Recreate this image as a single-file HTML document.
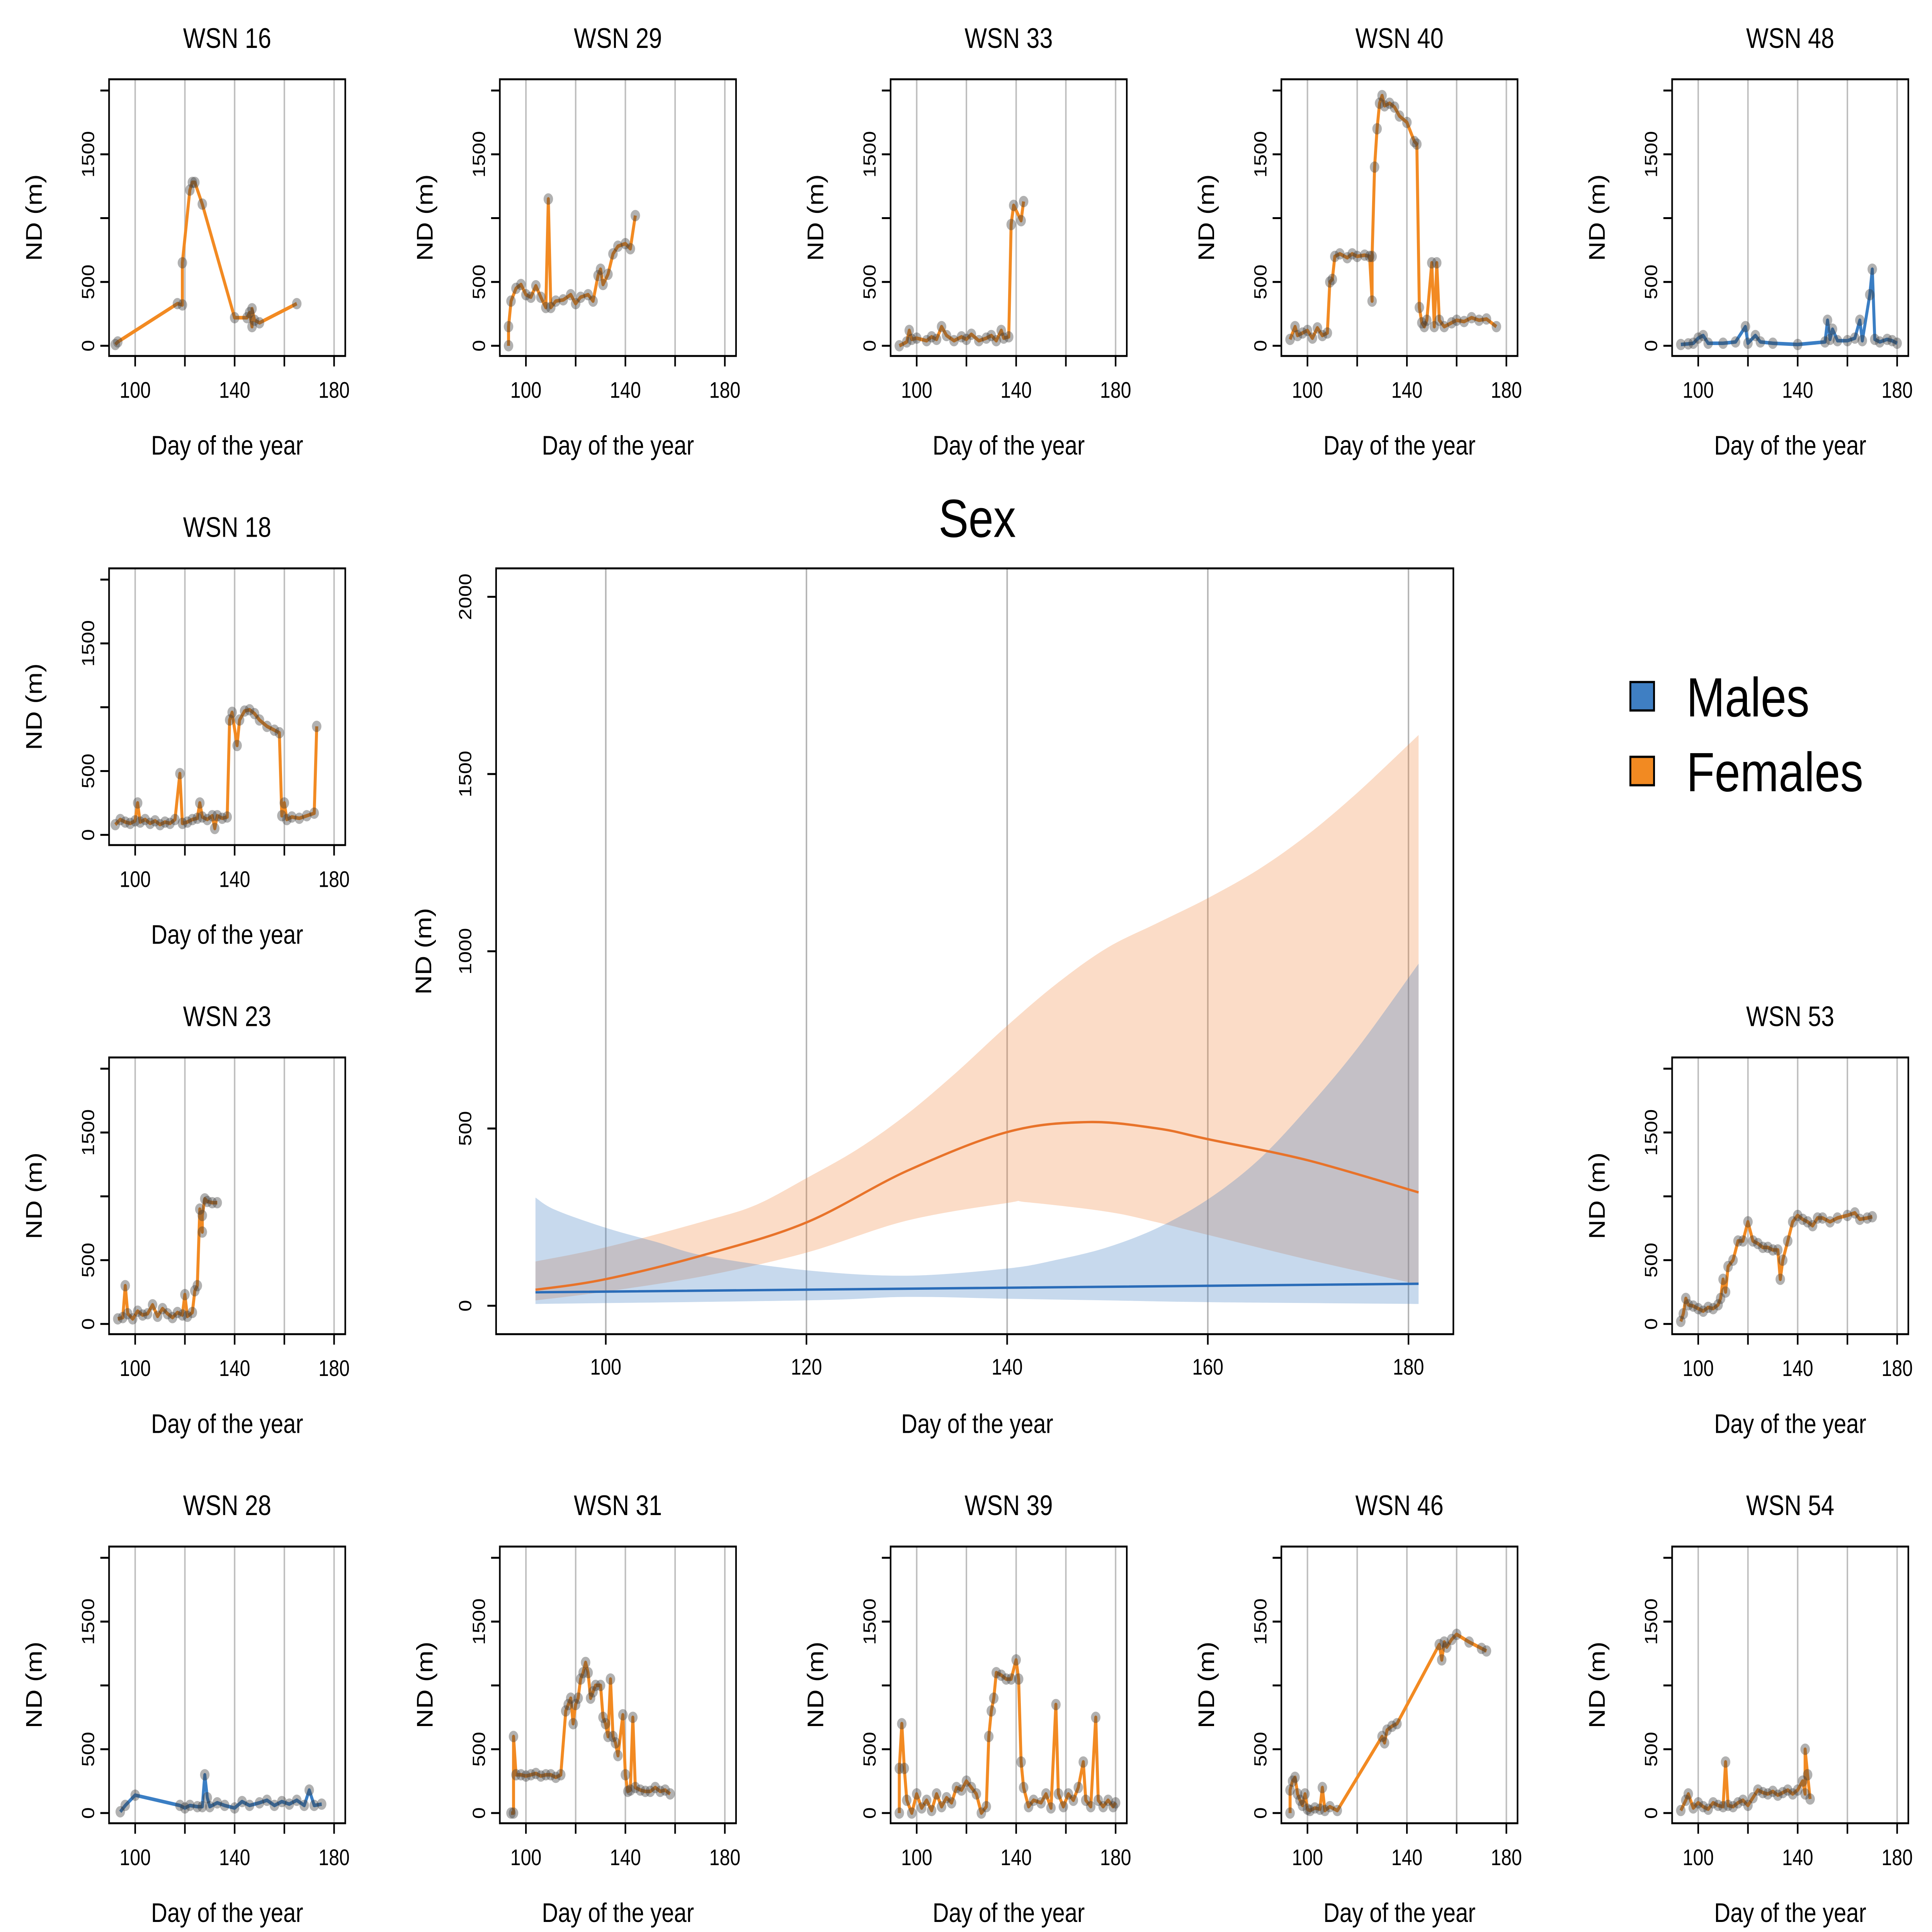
<!DOCTYPE html>
<html><head><meta charset="utf-8"><style>
html,body{margin:0;padding:0;background:#fff;width:100%;height:100%;overflow:hidden}
svg{display:block;position:absolute;left:0;top:0;width:100vw;height:100vh}
text{font-family:"Liberation Sans",Arial,sans-serif;fill:#000}
</style></head><body>
<svg id="chart" viewBox="0 0 1550 1291.7" preserveAspectRatio="none" xmlns="http://www.w3.org/2000/svg"></svg>
<script>
// ---- Center model data ----
const femaleMeanDays=[93,100,110,120,130,140,148,155,160,170,181];
const femaleMean=[45,75,145,235,380,490,518,500,470,410,320];
const femaleUpDays=[93,100,110,115,120,125,130,135,140,145,150,155,160,165,170,175,181];
const femaleUp=[125,165,240,285,360,440,540,660,790,910,1010,1080,1150,1230,1330,1450,1610];
const femaleLoDays=[93,100,110,120,130,140,142,150,155,160,170,181];
const femaleLo=[15,40,85,150,240,290,292,265,235,200,130,60];
const maleMeanDays=[93,181];
const maleMean=[38,62];
const maleUpDays=[93,95,100,105,110,120,130,140,145,150,155,160,165,170,175,181];
const maleUp=[305,270,220,180,140,100,85,105,130,165,220,300,410,560,730,965];
const maleLoDays=[93,120,130,140,150,160,181];
const maleLo=[5,15,25,20,15,10,5];
const centerYTicks=[0,500,1000,1500,2000];
const centerXTicks=[100,120,140,160,180];
const smallYTicks=[0,500,1000,1500,2000];
const smallYLabels=["0","500","","1500",""];
const smallXTicks=[100,120,140,160,180];
const smallXLabels=["100","","140","","180"];

// ---- Individual panels ----
const panelNames=["WSN 16","WSN 29","WSN 33","WSN 40","WSN 48","WSN 18","WSN 23","WSN 53","WSN 28","WSN 31","WSN 39","WSN 46","WSN 54"];
const panelSex=["F","F","F","F","M","F","F","F","M","F","F","F","F"];
const panelCol=[0,1,2,3,4,0,0,4,0,1,2,3,4];
const panelRow=[0,0,0,0,0,1,2,2,3,3,3,3,3];
const d16=[[92,10],[93,30],[117,330],[119,320],[119,650],[122,1220],[123,1280],[124,1280],[127,1110],[140,220],[145,220],[146,260],[147,150],[147,290],[148,200],[150,180],[165,330]];
const d29=[[93,0],[93,150],[94,350],[96,450],[98,480],[100,400],[102,380],[104,470],[106,380],[108,300],[109,1150],[110,300],[112,350],[115,360],[118,400],[120,330],[122,380],[125,400],[127,350],[129,550],[130,600],[131,480],[133,560],[135,720],[137,780],[140,800],[142,760],[144,1020]];
const d33=[[93,0],[96,30],[97,120],[98,50],[100,60],[104,40],[106,70],[108,50],[110,150],[112,80],[115,40],[118,70],[120,50],[122,90],[125,40],[128,60],[130,80],[132,40],[134,120],[135,60],[137,70],[138,950],[139,1100],[142,980],[143,1130]];
const d40=[[93,50],[95,150],[96,80],[98,100],[100,120],[102,60],[104,140],[106,80],[108,100],[109,500],[110,520],[111,700],[113,720],[116,690],[118,720],[120,700],[123,710],[125,700],[126,350],[126,700],[127,1400],[128,1700],[129,1900],[130,1960],[131,1880],[133,1900],[135,1870],[137,1800],[140,1750],[143,1600],[144,1580],[145,300],[146,180],[147,150],[148,200],[150,650],[151,150],[152,650],[153,200],[155,150],[158,180],[160,200],[163,190],[166,220],[169,200],[172,210],[176,150]];
const d48=[[93,10],[96,15],[98,20],[100,60],[102,80],[104,20],[110,20],[115,30],[119,150],[120,20],[123,80],[125,30],[130,20],[140,10],[151,30],[152,200],[153,50],[154,130],[156,40],[160,40],[163,60],[165,200],[166,40],[169,400],[170,600],[171,50],[173,30],[176,50],[178,40],[180,20]];
const d18=[[92,80],[94,120],[96,100],[98,90],[100,110],[101,250],[102,100],[104,120],[106,90],[108,110],[110,80],[112,100],[114,90],[116,120],[118,480],[119,90],[121,100],[123,120],[125,130],[126,250],[127,140],[129,120],[131,150],[132,50],[133,150],[135,130],[137,140],[138,900],[139,960],[141,700],[142,900],[144,970],[146,980],[148,950],[150,900],[153,850],[156,820],[158,800],[159,150],[160,250],[161,120],[163,140],[166,130],[169,150],[172,170],[173,850]];
const d23=[[93,40],[95,50],[96,300],[97,80],[99,40],[101,100],[103,70],[105,80],[107,150],[109,60],[111,120],[113,80],[115,50],[117,90],[119,70],[120,230],[121,60],[123,90],[124,260],[125,300],[126,900],[127,720],[127,850],[128,980],[129,960],[131,950],[133,950]];
const d53=[[93,20],[94,80],[95,200],[96,150],[98,140],[100,120],[102,100],[104,130],[106,120],[108,150],[109,200],[110,350],[111,250],[112,450],[114,500],[116,650],[118,650],[120,800],[122,650],[124,630],[126,600],[128,600],[130,580],[132,580],[133,350],[134,500],[136,650],[138,800],[140,850],[142,820],[144,800],[146,770],[148,830],[150,830],[153,800],[156,830],[160,850],[163,870],[165,820],[168,830],[170,840]];
const d28=[[94,10],[96,60],[100,140],[118,60],[120,40],[122,60],[125,50],[127,50],[128,300],[129,120],[130,50],[133,80],[136,60],[140,40],[143,90],[146,60],[150,80],[153,100],[156,60],[159,90],[162,70],[165,100],[168,60],[170,180],[172,60],[175,70]];
const d31=[[94,0],[95,0],[95,600],[96,300],[98,300],[100,290],[102,300],[104,310],[106,290],[108,300],[110,300],[112,280],[114,300],[116,800],[117,850],[118,900],[119,700],[120,850],[121,900],[122,1050],[123,1100],[124,1180],[125,1100],[126,900],[127,950],[128,1000],[130,1000],[131,750],[132,700],[133,600],[134,1050],[135,600],[136,550],[137,450],[139,770],[140,300],[141,170],[142,180],[143,750],[144,200],[146,180],[148,170],[150,170],[152,200],[154,170],[156,180],[158,150]];
const d39=[[93,0],[93,350],[94,700],[95,350],[96,100],[98,0],[100,150],[102,40],[104,100],[106,20],[108,150],[110,50],[112,120],[114,80],[116,200],[118,180],[120,250],[122,200],[124,150],[126,0],[128,50],[129,600],[130,800],[131,900],[132,1100],[134,1080],[136,1050],[138,1050],[140,1200],[141,1050],[142,400],[143,200],[145,50],[147,100],[150,80],[152,150],[154,40],[156,850],[157,150],[159,50],[161,150],[163,100],[165,200],[167,400],[168,100],[170,50],[172,750],[173,100],[175,50],[177,100],[179,50],[180,80]];
const d46=[[93,0],[93,180],[94,250],[95,280],[96,150],[97,100],[98,60],[99,150],[100,30],[101,20],[103,40],[105,30],[106,200],[107,20],[109,50],[112,20],[130,600],[131,550],[132,650],[134,680],[136,700],[153,1320],[154,1200],[155,1340],[156,1300],[158,1360],[160,1400],[165,1340],[170,1290],[172,1270]];
const d54=[[93,20],[95,100],[96,150],[98,40],[100,80],[102,50],[104,30],[106,80],[108,60],[110,50],[111,400],[112,60],[114,50],[116,80],[118,100],[120,60],[122,120],[124,180],[126,160],[128,150],[130,170],[132,140],[134,160],[136,180],[138,150],[140,180],[142,250],[143,150],[143,500],[144,300],[145,110]];
const panelData=[d16,d29,d33,d40,d48,d18,d23,d53,d28,d31,d39,d46,d54];

const NS="http://www.w3.org/2000/svg";
const svg=document.getElementById('chart');
function mk(tag,attrs,parent){const e=document.createElementNS(NS,tag);for(const k in attrs)e.setAttribute(k,attrs[k]);(parent||svg).appendChild(e);return e;}
function txt(s,attrs,parent){const e=mk('text',attrs,parent);e.textContent=s;return e;}

// ---- small panels ----
const colX=[87.5,401,714.5,1028,1341.5], rowY=[53,380,707,1034];
const PW=189.5, PH=185, XMIN=89.5, XMAX=184.5, YMIN=-80, YMAX=2088;
panelNames.forEach((name,i)=>{
  const bx=colX[panelCol[i]], by=rowY[panelRow[i]];
  const g=mk('g',{});
  
  
  const sx=d=>bx+(d-XMIN)/(XMAX-XMIN)*PW;
  const sy=v=>by+PH-(v-YMIN)/(YMAX-YMIN)*PH;
  smallXTicks.forEach(t=>{
    const gl=mk('line',{x1:sx(t),x2:sx(t),y1:by,y2:by+PH,stroke:'#bebebe','stroke-width':1.2},g);
    
  });
  const col=panelSex[i]==='M'?'#3a7ec4':'#f28a22';
  const pts=panelData[i].map(p=>sx(p[0]).toFixed(1)+','+sy(p[1]).toFixed(1)).join(' ');
  const pl=mk('polyline',{points:pts,fill:'none',stroke:col,'stroke-width':2.4,'stroke-linejoin':'round'},g);
  
  panelData[i].forEach(p=>{
    const c=mk('circle',{cx:sx(p[0]),cy:sy(p[1]),r:3.8,fill:'rgba(60,60,60,0.4)'},g);
    
  });
  const fr=mk('rect',{x:bx,y:by,width:PW,height:PH,fill:'none',stroke:'#000','stroke-width':1.3},g);
  
  smallYTicks.forEach((t,k)=>{
    mk('line',{x1:bx-7,x2:bx,y1:sy(t),y2:sy(t),stroke:'#000','stroke-width':1.3},g);
    if(smallYLabels[k]){const tl=txt(smallYLabels[k],{x:bx-12,y:sy(t),'font-size':14,'text-anchor':'middle',transform:`rotate(-90 ${bx-12} ${sy(t)})`},g);
    }
  });
  smallXTicks.forEach((t,k)=>{
    mk('line',{x1:sx(t),x2:sx(t),y1:by+PH,y2:by+PH+7,stroke:'#000','stroke-width':1.3},g);
    if(smallXLabels[k]){const tl=txt(smallXLabels[k],{x:sx(t),y:by+PH+28,'font-size':15,'text-anchor':'middle'},g);
    }
  });
  const tt=txt(name,{x:bx+PW/2,y:by-21,'font-size':19,'text-anchor':'middle'},g);
  
  const xt=txt('Day of the year',{x:bx+PW/2,y:by+PH+66,'font-size':18,'text-anchor':'middle'},g);
  
  const yx=bx-54, yy=by+PH/2;
  const yt=txt('ND (m)',{x:yx,y:yy,'font-size':18,'text-anchor':'middle',transform:`rotate(-90 ${yx} ${yy})`},g);
  
});

// ---- center plot ----
const CX0=398, CX1=1166, CY0=380, CY1=892;
const cx=d=>486+(d-100)*8.05;
const cy=v=>873-v*0.237;
const cg=mk('g',{});


centerXTicks.forEach(t=>{
  const gl=mk('line',{x1:cx(t),x2:cx(t),y1:CY0,y2:CY1,stroke:'#b4b4b4','stroke-width':1.2},cg);
  
});
// smooth (Catmull-Rom) path through screen points
function smooth(P,move){
  let s=(move?'M':'L')+P[0][0].toFixed(1)+','+P[0][1].toFixed(1);
  for(let i=0;i<P.length-1;i++){
    const p0=P[Math.max(i-1,0)],p1=P[i],p2=P[i+1],p3=P[Math.min(i+2,P.length-1)];
    const c1=[p1[0]+(p2[0]-p0[0])/6,p1[1]+(p2[1]-p0[1])/6];
    const c2=[p2[0]-(p3[0]-p1[0])/6,p2[1]-(p3[1]-p1[1])/6];
    s+=`C${c1[0].toFixed(1)},${c1[1].toFixed(1)} ${c2[0].toFixed(1)},${c2[1].toFixed(1)} ${p2[0].toFixed(1)},${p2[1].toFixed(1)}`;
  }
  return s;
}
function band(updays,up,lodays,lo,fill,name){
  const U=updays.map((d,k)=>[cx(d),cy(up[k])]);
  const L=lodays.map((d,k)=>[cx(d),cy(lo[k])]).reverse();
  const p=mk('path',{d:smooth(U,true)+smooth(L,false)+'Z',fill:fill},cg);
  
}
function line(days,vals,col,name){
  const P=days.map((d,k)=>[cx(d),cy(vals[k])]);
  const p=mk('path',{d:smooth(P,true),fill:'none',stroke:col,'stroke-width':1.6},cg);
  
}
band(femaleUpDays,femaleUp,femaleLoDays,femaleLo,'rgba(242,140,70,0.3)','female-ci-band');
band(maleUpDays,maleUp,maleLoDays,maleLo,'rgba(70,130,195,0.3)','male-ci-band');
line(femaleMeanDays,femaleMean,'#e8732a','female-mean-line');
line(maleMeanDays,maleMean,'#2a6cb8','male-mean-line');
const cf=mk('rect',{x:CX0,y:CY0,width:CX1-CX0,height:CY1-CY0,fill:'none',stroke:'#000','stroke-width':1.3},cg);

centerYTicks.forEach(t=>{
  mk('line',{x1:CX0-7,x2:CX0,y1:cy(t),y2:cy(t),stroke:'#000','stroke-width':1.3},cg);
  const tl=txt(String(t),{x:CX0-20,y:cy(t),'font-size':14,'text-anchor':'middle',transform:`rotate(-90 ${CX0-20} ${cy(t)})`},cg);
  
});
centerXTicks.forEach(t=>{
  mk('line',{x1:cx(t),x2:cx(t),y1:CY1,y2:CY1+7,stroke:'#000','stroke-width':1.3},cg);
  const tl=txt(String(t),{x:cx(t),y:CY1+27,'font-size':15,'text-anchor':'middle'},cg);
  
});
const st=txt('Sex',{x:784,y:359,'font-size':36,'text-anchor':'middle'},cg);

const cxt=txt('Day of the year',{x:784,y:958,'font-size':18,'text-anchor':'middle'},cg);

const cyt=txt('ND (m)',{x:346,y:636,'font-size':18,'text-anchor':'middle',transform:'rotate(-90 346 636)'},cg);


// ---- legend ----
const lg=mk('g',{});


[['Males','#3f7fc3',466],['Females','#f28a22',516]].forEach(e=>{
  const r=mk('rect',{x:1308,y:e[2]-10,width:19,height:19,fill:e[1],stroke:'#000','stroke-width':1.5},lg);
  
  const t=txt(e[0],{x:1353,y:e[2]+13,'font-size':37},lg);
  
});
</script>
</body></html>
